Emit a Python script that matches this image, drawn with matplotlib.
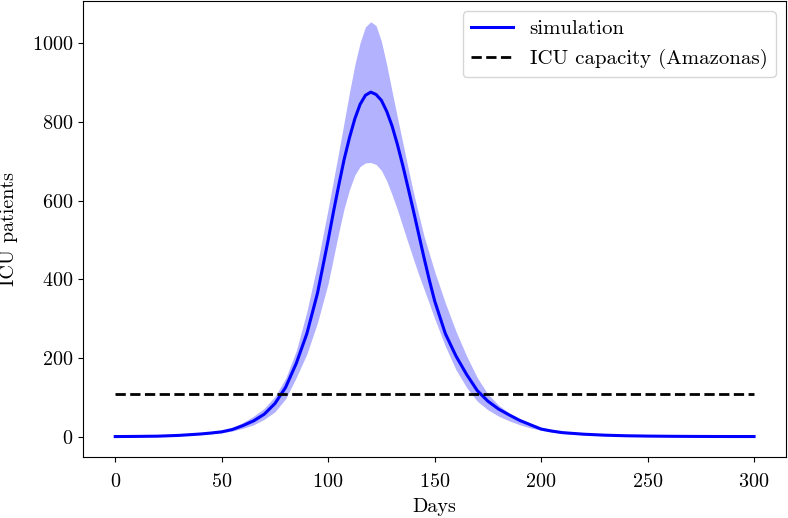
import matplotlib
matplotlib.use('Agg')
import matplotlib.pyplot as plt
import numpy as np

plt.rcParams['font.family'] = 'serif'
plt.rcParams['font.serif'] = ['cmr10', 'DejaVu Serif']
plt.rcParams['mathtext.fontset'] = 'cm'
plt.rcParams['axes.formatter.use_mathtext'] = True
plt.rcParams['font.size'] = 14.5
plt.rcParams['xtick.major.pad'] = 8

# days
days = [0, 10, 20, 30, 40, 45, 50, 55, 60, 65, 70, 75, 80, 85, 90, 95,
        100, 102.5, 105, 107.5, 110, 112.5, 115, 117.5, 120, 122.5, 125, 127.5,
        130, 132.5, 135, 137.5, 140, 142.5, 145, 147.5, 150, 155, 160, 165, 170,
        175, 180, 185, 190, 195, 200, 205, 210, 220, 230, 240, 250, 260, 270,
        280, 290, 300]

# mean ICU patients (simulation)
icu_mean = [0, 0.4, 1, 3, 6.5, 9, 12, 18, 28, 40, 57, 84, 125, 186, 262, 365,
            500, 572, 640, 705, 760, 808, 845, 868, 876, 870, 855, 827,
            790, 743, 690, 633, 575, 515, 455, 398, 345, 262, 205, 158, 117,
            90, 70, 55, 41, 30, 19, 14, 10, 6, 3.5, 2, 1.2, 0.7, 0.4,
            0.2, 0.1, 0.05]

# upper / lower bounds of the band
icu_upper = [0, 0.6, 1.3, 3.6, 8, 11, 15, 22, 36, 52, 72, 102, 148, 218, 318, 440,
             580, 652, 725, 800, 875, 945, 1002, 1042, 1055, 1045, 1005, 945,
             878, 812, 748, 684, 622, 565, 510, 465, 420, 340, 268, 205, 150,
             108, 80, 60, 45, 33, 24, 17, 13, 7, 4, 2, 1.2, 0.7, 0.4,
             0.2, 0.1, 0.05]

icu_lower = [0, 0.3, 0.8, 2.4, 5.2, 7, 9.5, 14, 21, 30, 44, 63, 96, 150, 210, 290,
             390, 455, 520, 580, 628, 665, 687, 696, 697, 692, 677, 650,
             615, 577, 535, 493, 452, 412, 375, 338, 300, 230, 170, 125, 90,
             68, 52, 40, 30, 22, 16, 11, 8, 4.5, 2.5, 1.5, 0.8, 0.5, 0.3,
             0.15, 0.08, 0.04]

icu_capacity = 109
cap_days = [0, 300]

fig = plt.figure(figsize=(7.88, 5.18), dpi=100)
ax = fig.add_axes([83.3 / 788, (518 - 457.3) / 518, 702.7 / 788, 456.3 / 518])

ax.fill_between(days, icu_lower, icu_upper, color='blue', alpha=0.3, linewidth=0)
ax.plot(days, icu_mean, color='blue', linewidth=2.2, label='simulation')
ax.plot(cap_days, [icu_capacity, icu_capacity], 'k--', linewidth=2,
        label='ICU capacity (Amazonas)')

ax.set_xlabel('Days', labelpad=5)
ax.set_ylabel('ICU patients', labelpad=10)
ax.legend(loc='upper right', fontsize=15)

fig.savefig('out.png', dpi=100)
